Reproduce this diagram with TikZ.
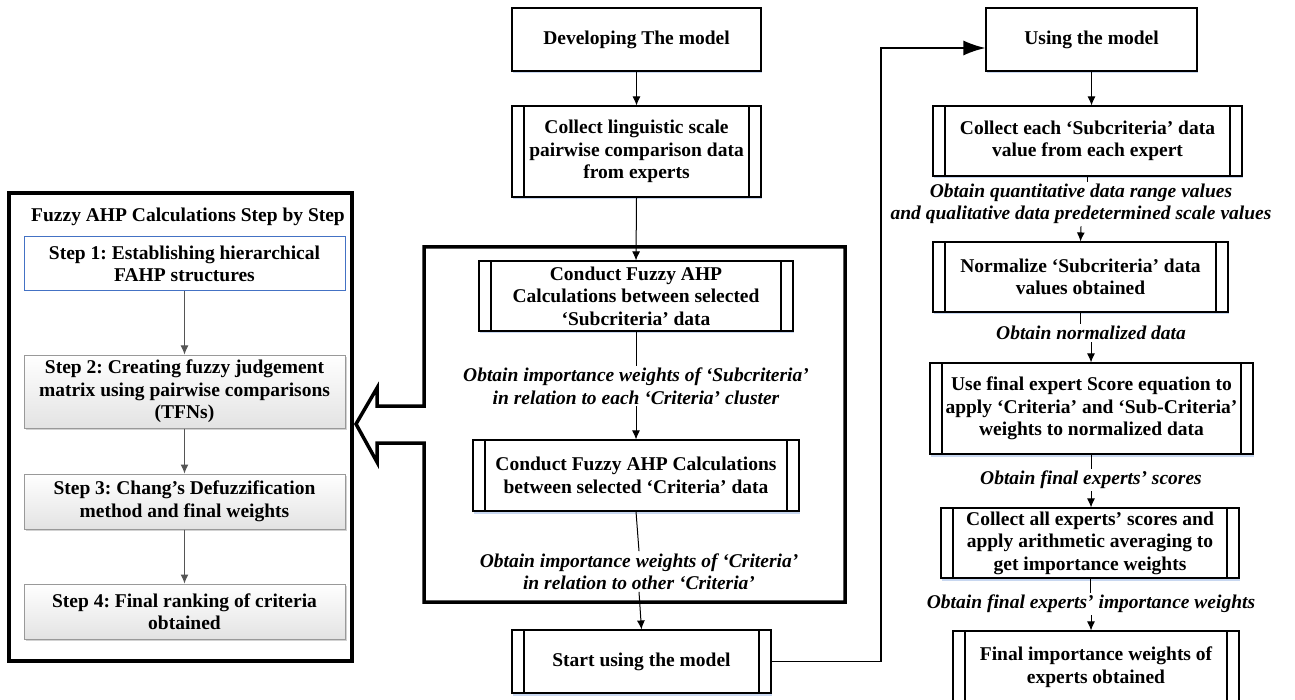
\documentclass[tikz,border=0pt]{standalone}
\usepackage{fontspec}
\setmainfont{Liberation Serif}
\usetikzlibrary{arrows.meta,shadows,calc}
\definecolor{stepblue}{RGB}{68,114,196}
\definecolor{shadowblue}{RGB}{200,215,240}
\definecolor{arrgray}{RGB}{85,85,85}
\frenchspacing
\begin{document}
\begin{tikzpicture}[x=1pt,y=-1pt,
  txt/.style={font=\bfseries\fontsize{19.5}{22.5}\selectfont, align=center},
  box/.style={txt, draw, line width=1.1pt, fill=white, inner sep=0pt,
    drop shadow={shadow xshift=1pt, shadow yshift=-2.5pt, fill=shadowblue, opacity=1}},
  proc/.style={box, path picture={
    \draw[line width=1.1pt] ([xshift=12pt]path picture bounding box.north west) -- ([xshift=12pt]path picture bounding box.south west);
    \draw[line width=1.1pt] ([xshift=-12pt]path picture bounding box.north east) -- ([xshift=-12pt]path picture bounding box.south east);}},
  lab/.style={font=\bfseries\itshape\fontsize{19.5}{22.5}\selectfont, align=center, inner sep=2pt},
  arr/.style={-{Latex[length=9pt,width=8pt]}, line width=1pt},
  grayarr/.style={-{Latex[length=9pt,width=8pt]}, line width=1pt, draw=arrgray, fill=arrgray},
  stepone/.style={txt, draw=stepblue, line width=1pt, fill=white, inner sep=0pt, minimum width=321pt},
  stepbx/.style={txt, draw=gray!80, line width=1pt, top color=white, bottom color=gray!22, inner sep=0pt, minimum width=321pt,
    drop shadow={shadow xshift=1.5pt, shadow yshift=-2pt, fill=gray!35, opacity=1}},
  bigarr/.style={-{Latex[length=22pt,width=15pt]}, line width=1.8pt}
]
\useasboundingbox (0,0) rectangle (1295,700);
\clip (0,0) rectangle (1295,700);

% ---------- left panel ----------
\draw[line width=3.5pt] (9,193) rectangle (352,661);
\node[txt, anchor=west, inner sep=0pt] (title) at (31,217) {Fuzzy AHP Calculations Step by Step};
\node[stepone, minimum height=54pt] (s1) at (184.5,264) {Step 1: Establishing hierarchical\\FAHP structures};
\node[stepbx, minimum height=73pt] (s2) at (184.5,391.5) {Step 2: Creating fuzzy judgement\\matrix using pairwise comparisons\\(TFNs)};
\node[stepbx, minimum height=55pt] (s3) at (184.5,501.5) {Step 3: Chang’s Defuzzification\\method and final weights};
\node[stepbx, minimum height=55pt] (s4) at (184.5,611.5) {Step 4: Final ranking of criteria\\obtained};
\draw[grayarr] (s1) -- (s2);
\draw[grayarr] (s2) -- (s3);
\draw[grayarr] (s3) -- (s4);

% ---------- middle column ----------
\draw[line width=3.5pt, fill=white, line join=miter]
  (424,406) -- (424,247) -- (845,247) -- (845,602) -- (424,602) -- (424,443)
  -- (377,443) -- (377,462) -- (356,424) -- (377,388) -- (377,406) -- cycle;

\node[box, minimum width=249pt, minimum height=63pt] (dev) at (636.5,39.5) {Developing The model};
\node[proc, minimum width=249pt, minimum height=91pt] (col1) at (636.5,151.5) {Collect linguistic scale\\pairwise comparison data\\from experts};
\node[proc, minimum width=314pt, minimum height=70pt] (sub) at (636,296) {Conduct Fuzzy AHP\\Calculations between selected\\‘Subcriteria’ data};
\node[lab] (labA) at (636,386) {Obtain importance weights of ‘Subcriteria’\\in relation to each ‘Criteria’ cluster};
\node[proc, minimum width=326pt, minimum height=71pt] (crit) at (636,475.5) {Conduct Fuzzy AHP Calculations\\between selected ‘Criteria’ data};
\node[lab] (labB) at (639,571.5) {Obtain importance weights of ‘Criteria’\\in relation to other ‘Criteria’};
\node[proc, minimum width=259pt, minimum height=63pt] (start) at (641.5,661.5) {Start using the model};

\draw[arr] (dev) -- (col1);
\draw[arr] (col1.south) -- (sub.north);
\draw[line width=1pt] (sub.south) -- (labA.north);
\draw[arr] (labA.south) -- (crit.north);
\draw[line width=1pt] (crit.south) -- (labB.north);
\draw[arr] (labB.south) -- (start.north);

% ---------- right column ----------
\node[box, minimum width=211pt, minimum height=63pt] (using) at (1091.5,39.5) {Using the model};
\node[proc, minimum width=309pt, minimum height=70pt] (col2) at (1087.5,141) {Collect each ‘Subcriteria’ data\\value from each expert};
\node[lab] (labC) at (1081,204) {Obtain quantitative data range values\\and qualitative data predetermined scale values};
\node[proc, minimum width=295pt, minimum height=70pt] (norm) at (1080.5,277) {Normalize ‘Subcriteria’ data\\values obtained};
\node[lab] (labD) at (1091,333) {Obtain normalized data};
\node[proc, minimum width=323pt, minimum height=91pt] (usef) at (1091.5,408.5) {Use final expert Score equation to\\apply ‘Criteria’ and ‘Sub-Criteria’\\weights to normalized data};
\node[lab] (labE) at (1091,480) {Obtain final experts’ scores};
\node[proc, minimum width=298pt, minimum height=70pt] (colall) at (1090,543) {Collect all experts’ scores and\\apply arithmetic averaging to\\get importance weights};
\node[lab] (labF) at (1091,604) {Obtain final experts’ importance weights};
\node[proc, minimum width=286pt, minimum height=72pt] (fin) at (1096,667) {Final importance weights of\\experts obtained};

\draw[arr] (using.south) -- (using.south |- col2.north);
\draw[line width=1pt] (col2.south) -- (col2.south |- labC.north);
\draw[arr] (labC.south) -- (norm.north);
\draw[line width=1pt] (norm.south) -- (norm.south |- labD.north);
\draw[arr] (labD.south) -- (labD.south |- usef.north);
\draw[line width=1pt] (usef.south) -- (usef.south |- labE.north);
\draw[arr] (labE.south) -- (labE.south |- colall.north);
\draw[line width=1pt] (colall.south) -- (colall.south |- labF.north);
\draw[arr] (labF.south) -- (labF.south |- fin.north);

% ---------- connector start -> using ----------
\coordinate (turn) at (881,48);
\draw[bigarr] (start.east) -| (turn) -- (using.west |- turn);
\end{tikzpicture}
\end{document}
